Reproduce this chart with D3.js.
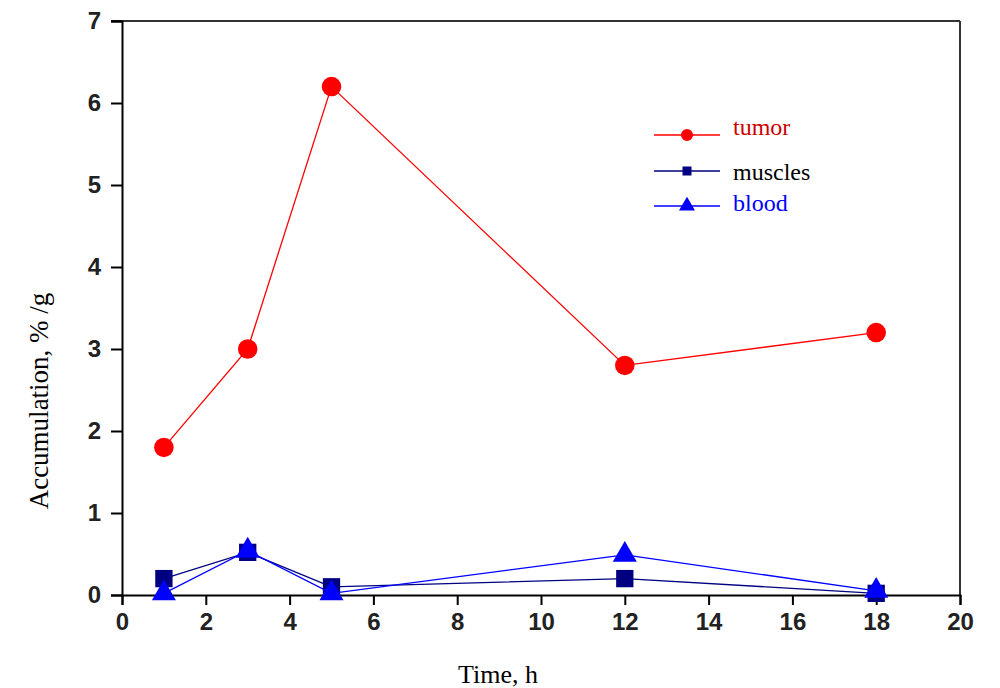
<!DOCTYPE html>
<html><head><meta charset="utf-8">
<script src="https://cdn.jsdelivr.net/npm/d3@7/dist/d3.min.js"></script>
<style>body{margin:0;background:#fff}</style>
</head><body>
<svg id="c" width="1000" height="688"></svg>
<script>
const times = [1, 3, 5, 12, 18];
const tumor = [1.8, 3.0, 6.2, 2.8, 3.2];
const muscles = [0.2, 0.52, 0.1, 0.2, 0.02];
const blood = [0.02, 0.54, 0.02, 0.49, 0.05];
const xTicks = [0, 2, 4, 6, 8, 10, 12, 14, 16, 18, 20];
const yTicks = [0, 1, 2, 3, 4, 5, 6, 7];
const seriesNames = ["tumor", "muscles", "blood"];

const svg = d3.select("#c");
const L = 122, R = 960, T = 21, B = 595;
const x = d3.scaleLinear().domain([0, 20]).range([L, R]);
const y = d3.scaleLinear().domain([0, 7]).range([B, T]);

// frame
svg.append("line").attr("x1", 111).attr("x2", R).attr("y1", T).attr("y2", T).attr("stroke", "#333").attr("stroke-width", 2);
svg.append("line").attr("x1", R).attr("x2", R).attr("y1", T).attr("y2", B).attr("stroke", "#333").attr("stroke-width", 2);

const tickFont = g => g.selectAll("text").attr("font-family", "Liberation Sans, Arial, sans-serif")
  .attr("font-weight", "bold").attr("font-size", 24).attr("fill", "#222");

// x axis
const gx = svg.append("g").attr("transform", `translate(0,${B})`);
gx.call(d3.axisBottom(x).tickValues(d3.range(1, 20, 2)).tickSize(6).tickFormat(""))
  .call(g => g.select(".domain").remove());
gx.call(d3.axisBottom(x).tickValues(xTicks).tickSize(10).tickPadding(8).tickFormat(d3.format("d")));
gx.selectAll("line,path").attr("stroke", "#000").attr("stroke-width", 2);
tickFont(gx);

// y axis
const gy = svg.append("g").attr("transform", `translate(${L},0)`);
gy.call(d3.axisLeft(y).tickValues(d3.range(0.5, 7, 1)).tickSize(6).tickFormat(""))
  .call(g => g.select(".domain").remove());
gy.call(d3.axisLeft(y).tickValues(yTicks).tickSize(11).tickPadding(10).tickFormat(d3.format("d")));
gy.selectAll("line,path").attr("stroke", "#000").attr("stroke-width", 2);
tickFont(gy);

// titles
svg.append("text").attr("x", 498).attr("y", 683).attr("text-anchor", "middle")
  .attr("font-family", "Liberation Serif, Times New Roman, serif").attr("font-size", 26).text("Time, h");
svg.append("text").attr("transform", "translate(48,401) rotate(-90)").attr("text-anchor", "middle")
  .attr("font-family", "Liberation Serif, Times New Roman, serif").attr("font-size", 27).text("Accumulation, % /g");

const line = d3.line().x(d => x(d[0])).y(d => y(d[1]));
const sym = {
  tumor: d3.symbol(d3.symbolCircle, 300),
  muscles: d3.symbol(d3.symbolSquare, 300),
  blood: d3.symbol(d3.symbolTriangle, 250)
};
const symLeg = {
  tumor: d3.symbol(d3.symbolCircle, 113),
  muscles: d3.symbol(d3.symbolSquare, 81),
  blood: d3.symbol(d3.symbolTriangle, 111)
};
const colors = {tumor: "#ff0000", muscles: "#000080", blood: "#0000ff"};
const textColors = {tumor: "#cc0000", muscles: "#000000", blood: "#0000ff"};
const data = {tumor, muscles, blood};

["muscles", "blood", "tumor"].forEach(name => {
  const pts = times.map((t, i) => [t, data[name][i]]);
  svg.append("path").attr("d", line(pts)).attr("fill", "none").attr("stroke", colors[name]).attr("stroke-width", 1.3);
  svg.selectAll(null).data(pts).enter().append("path")
    .attr("d", sym[name]())
    .attr("transform", d => `translate(${x(d[0])},${y(d[1])})`)
    .attr("fill", colors[name]);
});

// legend
const legY = [135, 171, 206];
const legTextY = [127, 172, 203];
seriesNames.forEach((name, i) => {
  const g = svg.append("g");
  g.append("line").attr("x1", 654).attr("x2", 720).attr("y1", legY[i]).attr("y2", legY[i]).attr("stroke", colors[name]).attr("stroke-width", 1.5);
  g.append("path").attr("d", symLeg[name]()).attr("transform", `translate(687,${legY[i]})`).attr("fill", colors[name]);
  g.append("text").attr("x", 733).attr("y", legTextY[i]).attr("dy", "0.32em").attr("font-family", "Liberation Serif, Times New Roman, serif")
    .attr("font-size", 24).attr("fill", textColors[name]).text(name);
});
</script>
</body></html>
